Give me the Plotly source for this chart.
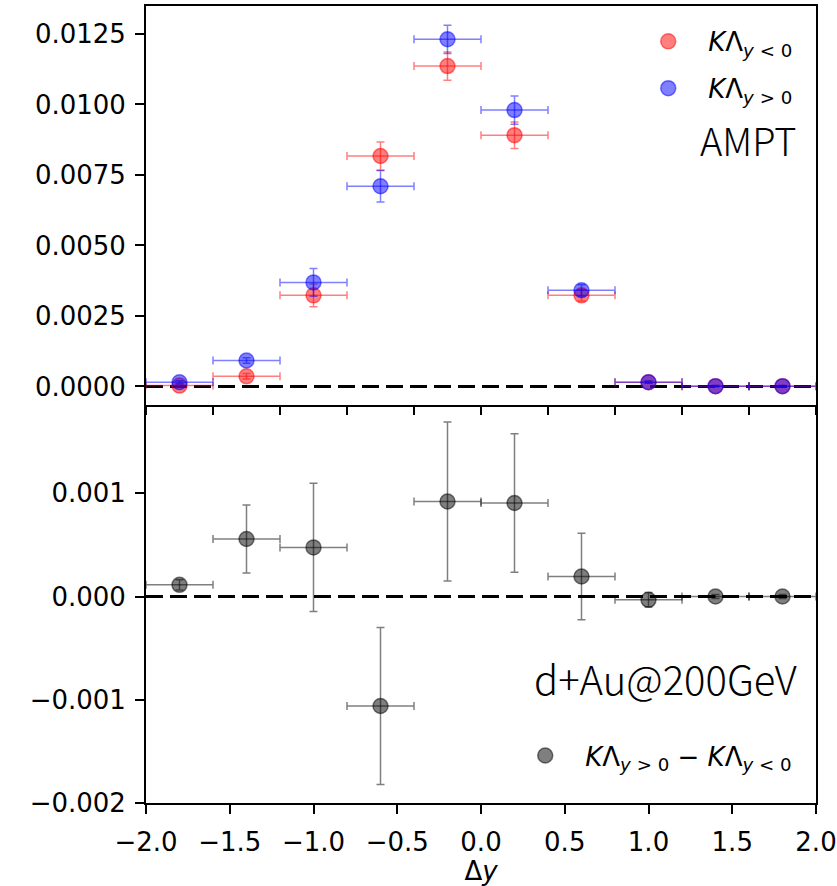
import plotly.graph_objects as go

# ---- data ----
dy = [-1.8, -1.4, -1.0, -0.6, -0.2, 0.2, 0.6, 1.0, 1.4, 1.8]
dy_err = [0.2] * 10

kl_neg = [0.00003, 0.00036, 0.00323, 0.00817, 0.01136, 0.00891, 0.00323, 0.00015, 0.00001, 0.00001]
kl_neg_err = [0.00005, 0.0001, 0.00040, 0.00050, 0.00050, 0.00047, 0.00020, 0.00004, 0.00002, 0.00002]

kl_pos = [0.00015, 0.00092, 0.00369, 0.00710, 0.01231, 0.00980, 0.00341, 0.00015, 0.00001, 0.00001]
kl_pos_err = [0.00005, 0.0001, 0.00049, 0.00056, 0.00050, 0.00050, 0.00020, 0.00004, 0.00002, 0.00002]

diff = [0.000113, 0.000557, 0.000476, -0.00106, 0.00092, 0.000906, 0.000194, -0.000032, 0.0, 0.0]
diff_err = [0.00005, 0.00033, 0.00062, 0.00076, 0.00077, 0.00067, 0.00042, 0.00007, 0.00002, 0.00002]

top_xticks = [-2.0, -1.6, -1.2, -0.8, -0.4, 0.0, 0.4, 0.8, 1.2, 1.6, 2.0]
bot_xticks = [-2.0, -1.5, -1.0, -0.5, 0.0, 0.5, 1.0, 1.5, 2.0]
top_yticks = [0.0, 0.0025, 0.005, 0.0075, 0.01, 0.0125]
bot_yticks = [-0.002, -0.001, 0.0, 0.001]

label_neg = "<i>K</i>Λ<sub><i>y</i> &lt; 0</sub>"
label_pos = "<i>K</i>Λ<sub><i>y</i> &gt; 0</sub>"
label_diff = "<i>K</i>Λ<sub><i>y</i> &gt; 0</sub> − <i>K</i>Λ<sub><i>y</i> &lt; 0</sub>"

RED = "rgba(255,0,0,0.5)"
BLUE = "rgba(0,0,255,0.5)"
GREY = "rgba(0,0,0,0.5)"

fig = go.Figure()


def add_series(x, y, xe, ye, color, name, xa, ya, legend, group):
    fig.add_trace(go.Scatter(
        x=x, y=y, mode="markers", name=name,
        xaxis=xa, yaxis=ya, legend=legend, legendgroup=group,
        marker=dict(size=15, color=color, line=dict(color=color, width=1.5)),
        error_x=dict(type="data", array=xe, color=color, thickness=1.5, width=4),
        error_y=dict(type="data", array=ye, color=color, thickness=1.5, width=4),
    ))


add_series(dy, kl_neg, dy_err, kl_neg_err, RED, label_neg, "x", "y", "legend", "neg")
add_series(dy, kl_pos, dy_err, kl_pos_err, BLUE, label_pos, "x", "y", "legend", "pos")
add_series(dy, diff, dy_err, diff_err, GREY, label_diff, "x2", "y2", "legend2", "diff")

# zero dashed lines
for xr, yr in (("x", "y"), ("x2", "y2")):
    fig.add_shape(type="line", xref=f"{xr} domain", yref=yr, x0=0, x1=1, y0=0, y1=0,
                  line=dict(color="black", width=3, dash="17px,7px"), layer="below")

axis_common = dict(showline=True, linecolor="black", linewidth=1.8,
                   ticks="outside", ticklen=9, tickwidth=1.8, tickcolor="black",
                   showgrid=False, zeroline=False, automargin=False,
                   tickfont=dict(family="DejaVu Sans", size=26, color="black"))

fig.update_layout(
    width=837, height=886,
    margin=dict(l=146, r=21, t=6, b=83),
    paper_bgcolor="white", plot_bgcolor="white",
    font=dict(family="DejaVu Sans", color="black"),
    xaxis=dict(domain=[0, 1], anchor="y", range=[-2, 2], tickvals=top_xticks,
               showticklabels=False, mirror=True, **axis_common),
    yaxis=dict(domain=[0.5, 1], anchor="x", range=[-0.00064, 0.01349],
               tickvals=top_yticks, tickformat=".4f", mirror=True,
               ticklabelstandoff=4, **axis_common),
    xaxis2=dict(domain=[0, 1], anchor="y2", range=[-2, 2], tickvals=bot_xticks,
                tickformat=".1f", mirror=False, ticklabelstandoff=6,
                title=dict(text="Δ<i>y</i>", font=dict(family="DejaVu Sans", size=26), standoff=8),
                **axis_common),
    yaxis2=dict(domain=[0, 0.5], anchor="x2", range=[-0.002, 0.00186],
                tickvals=bot_yticks, tickformat=".3f", mirror=True,
                ticklabelstandoff=4, **axis_common),
    legend=dict(x=0.972, xanchor="right", y=0.985, yanchor="top",
                traceorder="grouped", tracegroupgap=10, itemwidth=70,
                bgcolor="rgba(0,0,0,0)", font=dict(family="DejaVu Sans", size=26)),
    legend2=dict(x=0.972, xanchor="right", y=0.03, yanchor="bottom", itemwidth=70,
                 bgcolor="rgba(0,0,0,0)", font=dict(family="DejaVu Sans", size=26)),
    showlegend=True,
)

fig.add_annotation(text="AMPT", xref="paper", yref="paper", x=0.974, y=0.832,
                   xanchor="right", yanchor="middle", showarrow=False,
                   font=dict(family="Noto Sans CJK SC", size=38, weight=300, color="black"))
fig.add_annotation(text="d+Au@200GeV", xref="paper", yref="paper", x=0.975, y=0.157,
                   xanchor="right", yanchor="middle", showarrow=False,
                   font=dict(family="Noto Sans CJK SC", size=40, weight=300, color="black"))

fig.write_html("out.html", config={"displayModeBar": False},
               post_script="document.body.style.margin='0';")
